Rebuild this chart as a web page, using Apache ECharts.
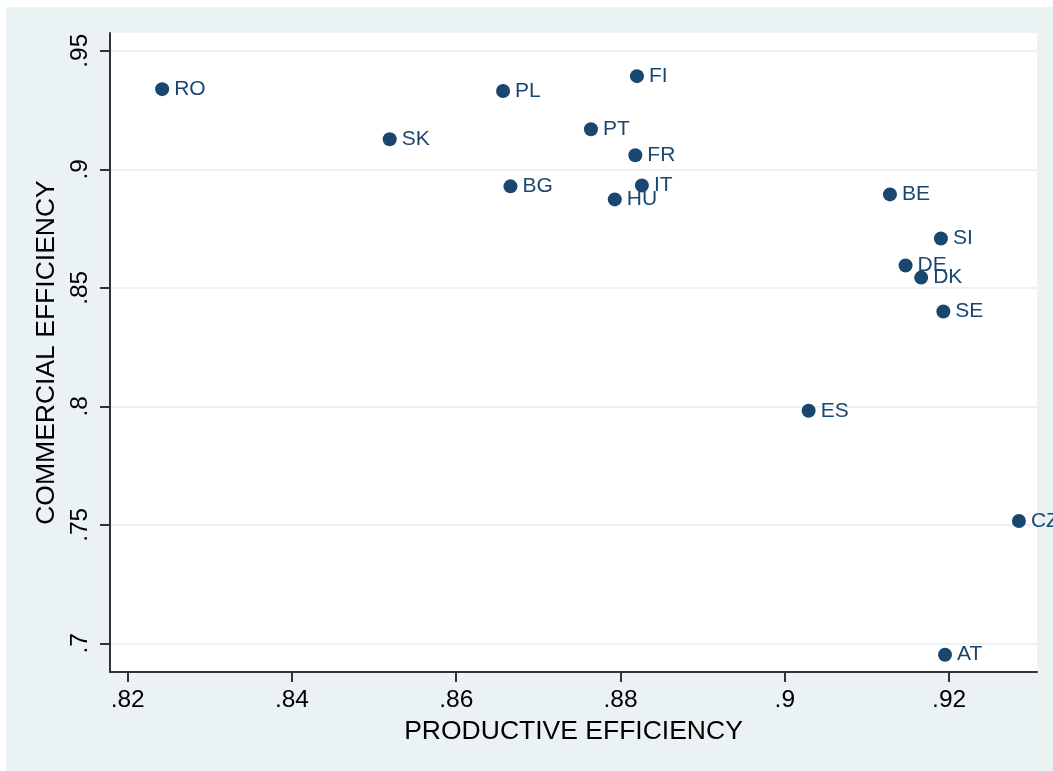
<!DOCTYPE html>
<html>
<head>
<meta charset="utf-8">
<script src="https://cdn.jsdelivr.net/npm/echarts@6/dist/echarts.min.js"></script>
<style>
html,body{margin:0;padding:0;background:#ffffff;}
#chart{width:1053px;height:771px;}
</style>
</head>
<body>
<div id="chart"></div>
<script>
const countries = ['RO','PL','FI','SK','PT','FR','BG','IT','HU','BE','SI','DE','DK','SE','ES','CZ','AT'];
const productive = [0.8242,0.8657,0.8820,0.8519,0.8764,0.8818,0.8666,0.8826,0.8793,0.9128,0.9190,0.9147,0.9166,0.9193,0.9029,0.9285,0.9195];
const commercial = [0.9338,0.9330,0.9393,0.9127,0.9169,0.9059,0.8928,0.8932,0.8873,0.8894,0.8708,0.8594,0.8543,0.8400,0.7981,0.7516,0.6952];
const xTicks = [0.82,0.84,0.86,0.88,0.90,0.92];
const yTicks = [0.70,0.75,0.80,0.85,0.90,0.95];
const xTickLabels = ['.82','.84','.86','.88','.9','.92'];
const yTickLabels = ['.7','.75','.8','.85','.9','.95'];

const navy = '#1a476f';
const font = '"Liberation Sans", Arial, Helvetica, sans-serif';

function fmt(ticks, labels){
  return function(v){
    for (let i=0;i<ticks.length;i++){ if (Math.abs(v-ticks[i])<1e-6) return labels[i]; }
    return '';
  };
}

const data = countries.map((c,i)=>[productive[i], commercial[i], c]);

const chart = echarts.init(document.getElementById('chart'), null, {renderer:'canvas'});
chart.setOption({
  animation:false,
  backgroundColor:'#ffffff',
  graphic:[{
    type:'rect', z:-10, silent:true,
    shape:{x:6,y:7,width:1047,height:764},
    style:{fill:'#eaf2f3'}
  },{
    type:'rect', z:-9, silent:true,
    shape:{x:110,y:33,width:927,height:639},
    style:{fill:'#ffffff'}
  }],
  grid:{left:110, top:33, width:927, height:639, containLabel:false},
  xAxis:{
    type:'value',
    min:0.81785, max:0.9307,
    name:'PRODUCTIVE EFFICIENCY',
    nameLocation:'middle',
    nameGap:42,
    nameTextStyle:{color:'#000', fontSize:26.5, fontFamily:font},
    axisLine:{show:true, onZero:false, lineStyle:{color:'#333', width:2}},
    axisTick:{show:true, customValues:xTicks, length:10, lineStyle:{color:'#333', width:2}},
    axisLabel:{customValues:xTicks, formatter:fmt(xTicks,xTickLabels), color:'#000', fontSize:24.5, fontFamily:font, margin:16},
    splitLine:{show:false}
  },
  yAxis:{
    type:'value',
    min:0.6879, max:0.9575,
    name:'COMMERCIAL EFFICIENCY',
    nameLocation:'middle',
    nameGap:44,
    nameRotate:90,
    nameTextStyle:{color:'#000', fontSize:26.5, fontFamily:font},
    axisLine:{show:true, onZero:false, lineStyle:{color:'#333', width:2}},
    axisTick:{show:true, customValues:yTicks, length:10, lineStyle:{color:'#333', width:2}},
    axisLabel:{customValues:yTicks, formatter:fmt(yTicks,yTickLabels), color:'#000', fontSize:24.5, fontFamily:font, rotate:90, margin:17},
    splitLine:{show:true, lineStyle:{color:'#eaf2f3', width:2}}
  },
  series:[{
    type:'scatter',
    data:data,
    symbol:'circle',
    symbolSize:14,
    itemStyle:{color:navy, opacity:1},
    label:{
      show:true, position:'right', distance:5,
      padding:[6,0,0,0],
      formatter:p=>p.data[2],
      color:navy, fontSize:21, fontFamily:font
    },
    labelLayout:{hideOverlap:false}
  }]
});
</script>
</body>
</html>
